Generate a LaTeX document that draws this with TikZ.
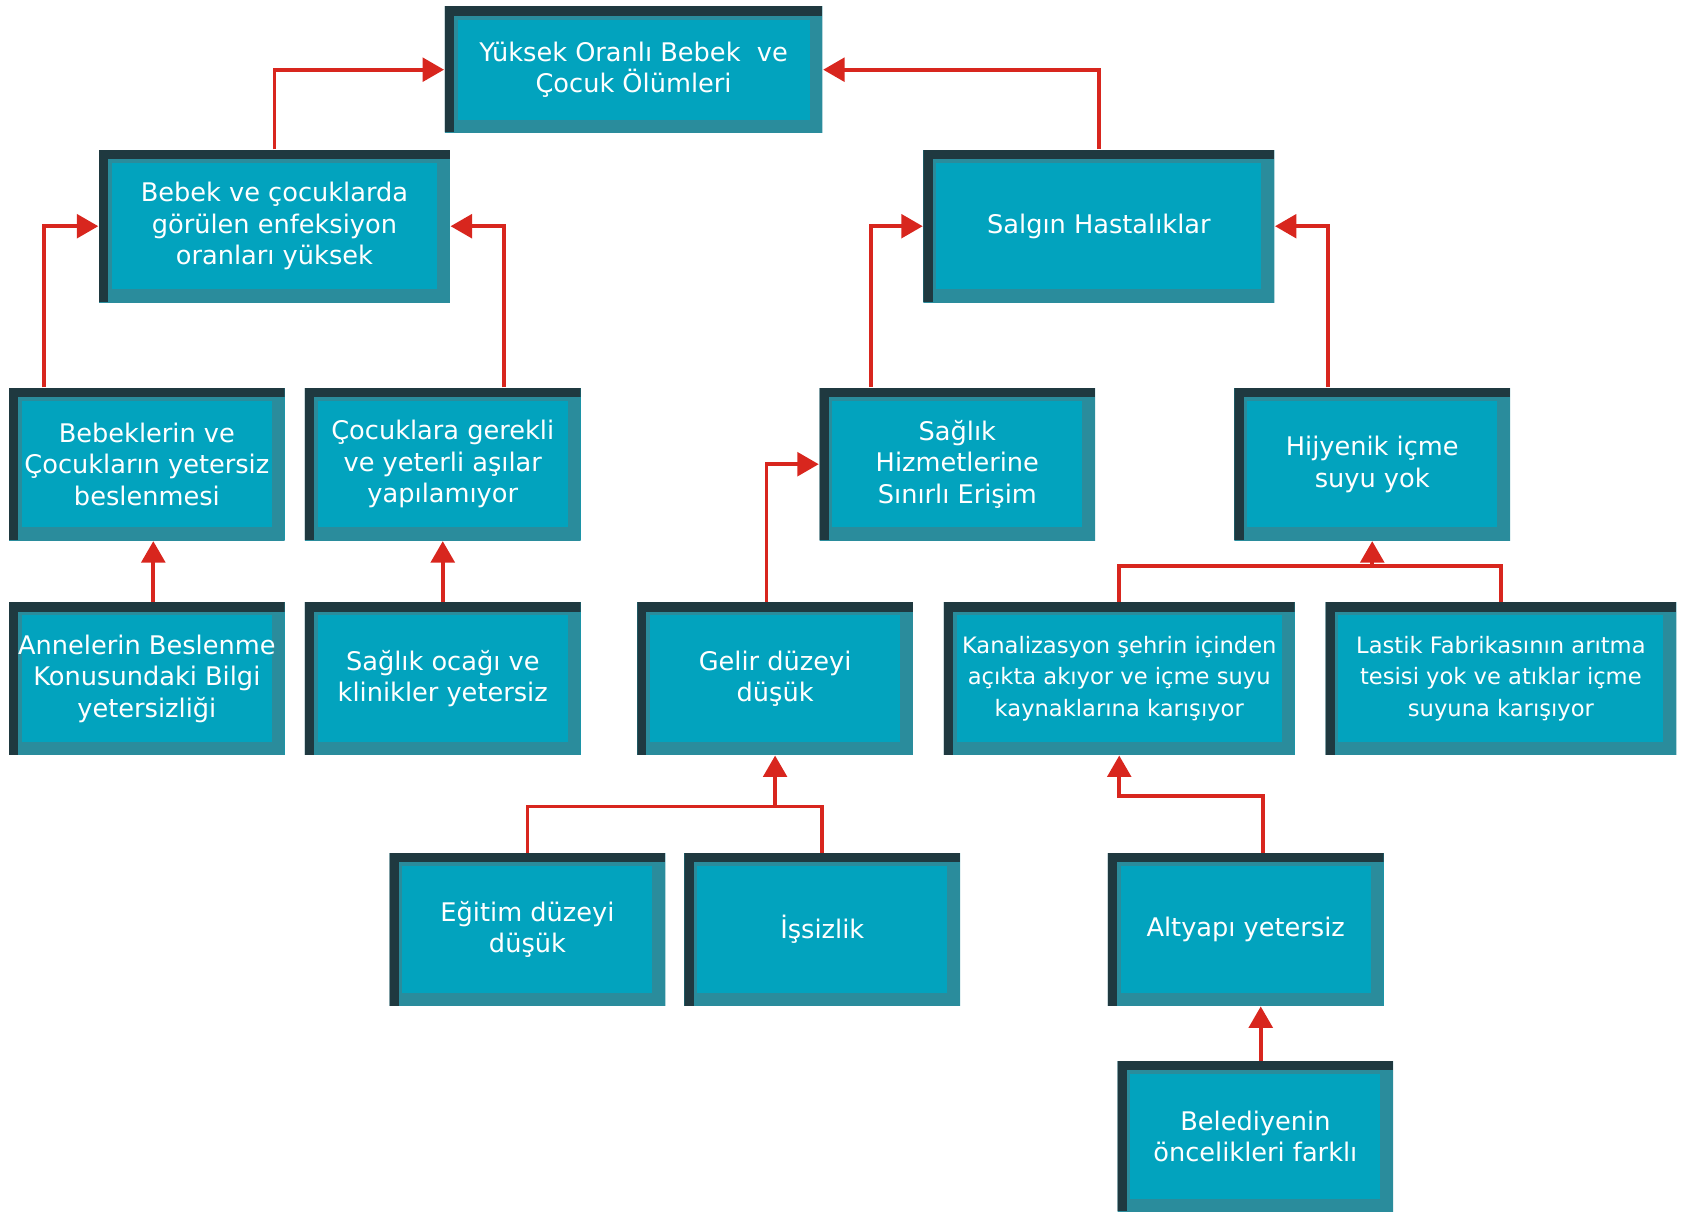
\documentclass[tikz,border=0pt]{standalone}
\usepackage{fontspec}
\setmainfont{DejaVu Sans}
\usetikzlibrary{arrows.meta}
\definecolor{boxfill}{HTML}{02A3BE}
\definecolor{boxdark}{HTML}{1F3940}
\definecolor{boxrim}{HTML}{2A8C9C}
\definecolor{linkred}{HTML}{D8261E}

\begin{document}
\begin{tikzpicture}[x=0.01cm,y=-0.01cm,font=\fontsize{6.8}{8.4}\selectfont,
  box/.style={fill=boxfill, text=white, align=center, inner sep=0pt,
    minimum width=2.57cm, minimum height=1.42cm,
    path picture={
      \draw[boxrim, line width=0.24cm] (path picture bounding box.south west) rectangle (path picture bounding box.north east);
      \draw[boxdark, line width=0.17cm] (path picture bounding box.south west) -- (path picture bounding box.north west) -- (path picture bounding box.north east);
    }},
  bigbox/.style={box, minimum width=3.27cm},
  widebox/.style={bigbox, font=\fontsize{6}{8.4}\selectfont},
  wire/.style={linkred, line width=1pt},
  link/.style={wire, -{Triangle[length=0.2cm,width=0.22cm]}}]

\useasboundingbox (0,0) rectangle (1568,1130);

\node[box, minimum width=3.52cm, minimum height=1.17cm] (top) at (591,65) {Yüksek Oranlı Bebek\ \ ve\\Çocuk Ölümleri};
\node[bigbox] (inf) at (256,211) {Bebek ve çocuklarda\\görülen enfeksiyon\\oranları yüksek};
\node[bigbox] (salgin) at (1025,211) {Salgın Hastalıklar};

\node[box] (bes) at (137,433) {Bebeklerin ve\\Çocukların yetersiz\\beslenmesi};
\node[box] (asi) at (413,433) {Çocuklara gerekli\\ve yeterli aşılar\\yapılamıyor};
\node[box] (erisim) at (893,433) {Sağlık\\Hizmetlerine\\Sınırlı Erişim};
\node[box] (hijyen) at (1280,433) {Hijyenik içme\\suyu yok};

\node[box] (anne) at (137,633) {Annelerin Beslenme\\Konusundaki Bilgi\\yetersizliği};
\node[box] (ocak) at (413,633) {Sağlık ocağı ve\\klinikler yetersiz};
\node[box] (gelir) at (723,633) {Gelir düzeyi\\düşük};
\node[widebox] (kanal) at (1044,633) {Kanalizasyon şehrin içinden\\açıkta akıyor ve içme suyu\\kaynaklarına karışıyor};
\node[widebox] (lastik) at (1400,633) {Lastik Fabrikasının arıtma\\tesisi yok ve atıklar içme\\suyuna karışıyor};

\node[box] (egitim) at (492,867) {Eğitim düzeyi\\düşük};
\node[box] (issiz) at (767,867) {İşsizlik};
\node[box] (altyapi) at (1162,867) {Altyapı yetersiz};
\node[box, minimum height=1.40cm] (beled) at (1171,1060) {Belediyenin\\öncelikleri farklı};

\draw[link] (inf.north) |- (top.west);
\draw[link] (salgin.north) |- (top.east);
\draw[link] ([xshift=0.33cm]bes.north west) |- (inf.west);
\draw[link] ([xshift=-0.72cm]asi.north east) |- (inf.east);
\draw[link] ([xshift=0.49cm]erisim.north west) |- (salgin.west);
\draw[link] ([xshift=0.88cm]hijyen.north west) |- (salgin.east);
\draw[link] ([xshift=0.06cm]anne.north) -- ([xshift=0.06cm]bes.south);
\draw[link] (ocak.north) -- (asi.south);
\draw[link] ([xshift=-0.08cm]gelir.north) |- (erisim.west);

\path (kanal.north) ++(0,-33) coordinate (k);
\draw[wire] (kanal.north) -- (k) -| (lastik.north);
\path (hijyen.south |- k) coordinate (kj);
\draw[link] (kj) -- (hijyen.south);

\path (egitim.north) ++(0,-43) coordinate (e);
\draw[wire] (egitim.north) -- (e) -| (issiz.north);
\path (gelir.south |- e) coordinate (ej);
\draw[link] (ej) -- (gelir.south);

\draw[link] ([xshift=0.16cm]altyapi.north) -- ++(0,-53) -| (kanal.south);
\draw[link] ([xshift=0.05cm]beled.north) -- ([xshift=0.05cm]beled.north |- altyapi.south);

\end{tikzpicture}
\end{document}
